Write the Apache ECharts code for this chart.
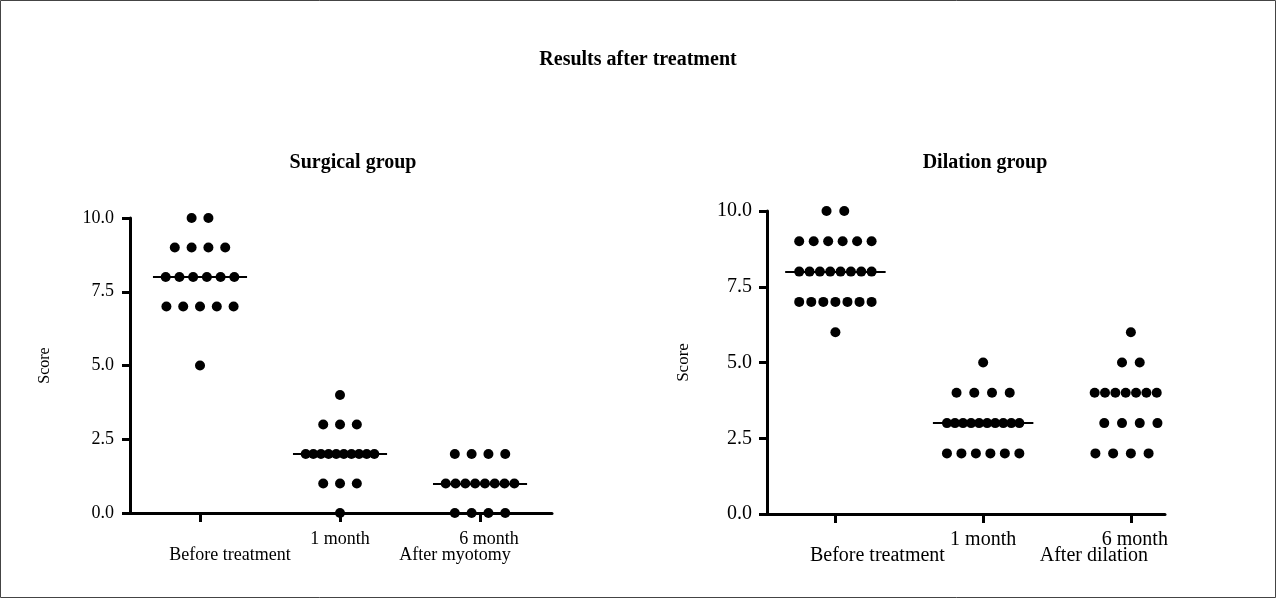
<!DOCTYPE html>
<html><head><meta charset="utf-8">
<script src="https://cdn.jsdelivr.net/npm/echarts@6/dist/echarts.min.js"></script>
<style>html,body{margin:0;padding:0;background:#fff}#c{width:1276px;height:598px}</style>
</head><body><div id="c"></div>
<script>
// ---------- data ----------
const mainTitle = 'Results after treatment';
const panelTitles = ['Surgical group', 'Dilation group'];
const timeLabels = ['', '1 month', '6 month'];
const groupLabelsSurgical = ['Before treatment', 'After myotomy'];
const groupLabelsDilation = ['Before treatment', 'After dilation'];
const yTicks = [0, 2.5, 5, 7.5, 10];
const yName = 'Score';

// Surgical group scores
const surgBefore = [10,10, 9,9,9,9, 8,8,8,8,8,8, 7,7,7,7,7, 5];
const surg1m     = [4, 3,3,3, 2,2,2,2,2,2,2,2,2,2, 1,1,1, 0];
const surg6m     = [2,2,2,2, 1,1,1,1,1,1,1,1, 0,0,0,0];
const surgMedians = [8, 2, 1];

// Dilation group scores
const dilBefore = [10,10, 9,9,9,9,9,9, 8,8,8,8,8,8,8,8, 7,7,7,7,7,7,7, 6];
const dil1m     = [5, 4,4,4,4, 3,3,3,3,3,3,3,3,3,3, 2,2,2,2,2,2];
const dil6m     = [6, 5,5, 4,4,4,4,4,4,4,4, 3,3,3,3, 2,2,2,2,2];
const dilMedians = [8, 3, 3.5];

// ---------- layout helpers ----------
const SERIF = '"Liberation Serif","Times New Roman",serif';
function swarm(groups) {
  const pts = [];
  groups.forEach((vals, gi) => {
    const counts = {};
    vals.forEach(v => counts[v] = (counts[v] || 0) + 1);
    Object.keys(counts).forEach(k => {
      const n = counts[k];
      const sp = n > 1 ? Math.min(0.12, 0.49 / (n - 1)) : 0;
      for (let i = 0; i < n; i++) pts.push([gi + (i - (n - 1) / 2) * sp, +k]);
    });
  });
  return pts;
}
function medianLines(meds, hw) {
  return meds.map((m, i) => [{coord: [i - hw, m]}, {coord: [i + hw, m]}]);
}
function xLabelFormatter(groupLabels) {
  return function (v) {
    const i = Math.round(v);
    if (i === 0) return '{m| }\n{gl|' + groupLabels[0] + '}';
    if (i === 2) return '{m2|' + timeLabels[2] + '}\n{gr|' + groupLabels[1] + '}';
    return '{m|' + timeLabels[i] + '}';
  };
}
function xAxis(gi, min, max, fs, lh, padL, padR, pad6, groupLabels) {
  const base = {fontFamily: SERIF, fontSize: fs, color: '#000', lineHeight: lh};
  return {
    gridIndex: gi, type: 'value', min: min, max: max,
    axisLine: {show: true, onZero: false, lineStyle: {color: '#000', width: 3}},
    axisTick: {show: true, customValues: [0, 1, 2], length: 9, lineStyle: {color: '#000', width: 3}},
    axisLabel: {
      customValues: [0, 1, 2], margin: 18, formatter: xLabelFormatter(groupLabels),
      rich: {
        m: base,
        m2: Object.assign({}, base, {padding: [0, 0, 0, pad6]}),
        gl: Object.assign({}, base, {padding: [0, 0, 0, padL]}),
        gr: Object.assign({}, base, {padding: [0, padR, 0, 0]})
      }
    },
    splitLine: {show: false}
  };
}
function yAxis(gi, fs, nfs, gap, margin) {
  return {
    gridIndex: gi, type: 'value', min: yTicks[0], max: yTicks[yTicks.length - 1],
    interval: yTicks[1] - yTicks[0],
    name: yName, nameLocation: 'middle', nameGap: gap, nameRotate: 90,
    nameTextStyle: {fontFamily: SERIF, fontSize: nfs, color: '#000'},
    axisLine: {show: true, onZero: false, lineStyle: {color: '#000', width: 3}},
    axisTick: {show: true, length: 8, lineStyle: {color: '#000', width: 3}},
    axisLabel: {margin: margin, fontFamily: SERIF, fontSize: fs, color: '#000',
      formatter: v => v.toFixed(1)},
    splitLine: {show: false}
  };
}
function scatter(gi, groups, meds, size, hw) {
  return {
    type: 'scatter', xAxisIndex: gi, yAxisIndex: gi,
    data: swarm(groups), symbol: 'circle', symbolSize: size,
    itemStyle: {color: '#000', opacity: 1}, silent: true, animation: false,
    emphasis: {disabled: true},
    markLine: {
      silent: true, symbol: ['none', 'none'], label: {show: false}, animation: false,
      lineStyle: {color: '#000', width: 2, type: 'solid', opacity: 1},
      emphasis: {disabled: true},
      data: medianLines(meds, hw)
    }
  };
}

const chart = echarts.init(document.getElementById('c'), null, {renderer: 'canvas'});
chart.setOption({
  backgroundColor: '#fff',
  animation: false,
  grid: [
    {left: 130, top: 218, width: 422, height: 295},
    {left: 767, top: 211, width: 398, height: 303}
  ],
  xAxis: [
    xAxis(0, -0.5, 2.514, 18, 16, 60, 50, 18, groupLabelsSurgical),
    xAxis(1, -0.463, 2.231, 20, 16, 84, 74, 8, groupLabelsDilation)
  ],
  yAxis: [
    yAxis(0, 18, 16, 77, 16),
    yAxis(1, 20, 17, 75, 15)
  ],
  series: [
    scatter(0, [surgBefore, surg1m, surg6m], surgMedians, 10, 0.336),
    scatter(1, [dilBefore, dil1m, dil6m], dilMedians, 10, 0.34)
  ],
  graphic: [
    {type: 'rect', silent: true, shape: {x: 0.5, y: 0.5, width: 1275, height: 597},
      style: {fill: null, stroke: '#444', lineWidth: 1}},
    {type: 'text', x: 638, y: 60, silent: true,
      style: {text: mainTitle, font: 'bold 20px ' + SERIF, fill: '#000', align: 'center', verticalAlign: 'middle'}},
    {type: 'text', x: 353, y: 163, silent: true,
      style: {text: panelTitles[0], font: 'bold 20px ' + SERIF, fill: '#000', align: 'center', verticalAlign: 'middle'}},
    {type: 'text', x: 985, y: 163, silent: true,
      style: {text: panelTitles[1], font: 'bold 20px ' + SERIF, fill: '#000', align: 'center', verticalAlign: 'middle'}}
  ]
});
</script></body></html>
